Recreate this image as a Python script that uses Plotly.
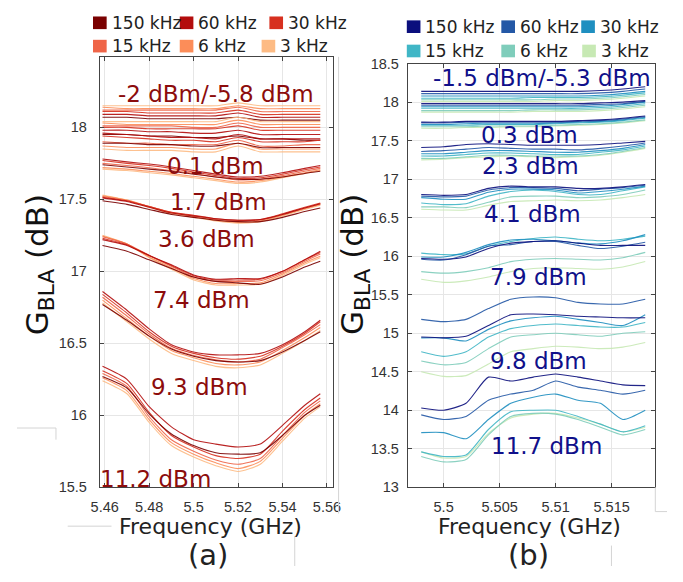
import plotly.graph_objects as go

# screen size 683x582; the page adds an 8 px body margin, so the figure is 16 px smaller
SCR_W, SCR_H = 683, 582
OFF = 8
W, H = SCR_W - 2 * OFF, SCR_H - 2 * OFF

# ---------------- data ----------------
freq_labels = ["150 kHz", "60 kHz", "30 kHz", "15 kHz", "6 kHz", "3 kHz"]
colors_a = ["#7a0000", "#b30d0d", "#d7301f", "#ef6548", "#fc8d59", "#fdbb84"]
colors_b = ["#0b0f7d", "#2458a6", "#1f8fc0", "#40b6c6", "#7fcdbb", "#c7e9b4"]

# panel (a): frequency (GHz)
freq_a = [5.459, 5.47, 5.48, 5.49, 5.50, 5.51, 5.52, 5.53, 5.54, 5.55, 5.557]
# each group: lines for 150, 60, 30, 15, 6, 3 kHz
a_m5p8 = [
    [18.07, 18.07, 18.06, 18.06, 18.06, 18.06, 18.07, 18.05, 18.05, 18.05, 18.05],
    [18.09, 18.09, 18.08, 18.08, 18.08, 18.08, 18.10, 18.07, 18.07, 18.07, 18.07],
    [18.11, 18.11, 18.10, 18.10, 18.10, 18.10, 18.12, 18.09, 18.09, 18.09, 18.09],
    [18.12, 18.12, 18.12, 18.12, 18.12, 18.12, 18.14, 18.11, 18.11, 18.11, 18.11],
    [18.14, 18.13, 18.13, 18.13, 18.13, 18.13, 18.15, 18.13, 18.13, 18.13, 18.13],
    [18.15, 18.15, 18.15, 18.15, 18.15, 18.15, 18.17, 18.15, 18.15, 18.15, 18.15],
]
a_m2 = [
    [17.95, 17.95, 17.94, 17.94, 17.93, 17.93, 17.94, 17.92, 17.92, 17.91, 17.91],
    [17.98, 17.98, 17.97, 17.97, 17.96, 17.96, 17.98, 17.95, 17.95, 17.95, 17.95],
    [18.00, 18.00, 17.99, 17.99, 17.99, 17.99, 18.01, 17.98, 17.98, 17.98, 17.98],
    [18.01, 18.01, 18.01, 18.01, 18.00, 18.00, 18.03, 18.00, 18.00, 18.00, 18.00],
    [18.03, 18.02, 18.02, 18.02, 18.02, 18.02, 18.05, 18.02, 18.02, 18.02, 18.02],
    [18.04, 18.04, 18.04, 18.04, 18.04, 18.04, 18.07, 18.04, 18.04, 18.04, 18.04],
]
a_0p1 = [
    [17.89, 17.89, 17.88, 17.88, 17.87, 17.87, 17.89, 17.86, 17.86, 17.86, 17.86],
    [17.96, 17.95, 17.94, 17.93, 17.93, 17.92, 17.95, 17.92, 17.92, 17.92, 17.92],
    [17.94, 17.93, 17.92, 17.91, 17.91, 17.90, 17.93, 17.90, 17.90, 17.90, 17.91],
    [17.90, 17.89, 17.89, 17.88, 17.88, 17.88, 17.91, 17.87, 17.87, 17.88, 17.88],
    [17.87, 17.86, 17.86, 17.86, 17.85, 17.85, 17.89, 17.85, 17.85, 17.85, 17.85],
    [17.85, 17.84, 17.84, 17.84, 17.83, 17.83, 17.87, 17.83, 17.83, 17.83, 17.83],
]
a_1p7 = [
    [17.74, 17.725, 17.71, 17.695, 17.675, 17.655, 17.64, 17.64, 17.655, 17.68, 17.695],
    [17.78, 17.76, 17.745, 17.725, 17.70, 17.675, 17.655, 17.66, 17.685, 17.715, 17.735],
    [17.77, 17.75, 17.735, 17.715, 17.69, 17.665, 17.645, 17.65, 17.675, 17.705, 17.725],
    [17.75, 17.735, 17.72, 17.70, 17.68, 17.655, 17.635, 17.64, 17.665, 17.695, 17.715],
    [17.72, 17.71, 17.695, 17.68, 17.66, 17.64, 17.62, 17.63, 17.655, 17.685, 17.705],
    [17.71, 17.70, 17.685, 17.67, 17.65, 17.63, 17.61, 17.62, 17.65, 17.68, 17.70],
]
a_3p6 = [
    [17.49, 17.465, 17.43, 17.395, 17.375, 17.355, 17.345, 17.345, 17.375, 17.415, 17.44],
    [17.51, 17.485, 17.445, 17.405, 17.385, 17.365, 17.355, 17.36, 17.395, 17.44, 17.47],
    [17.515, 17.49, 17.45, 17.41, 17.39, 17.365, 17.355, 17.36, 17.40, 17.445, 17.475],
    [17.52, 17.49, 17.45, 17.41, 17.385, 17.36, 17.35, 17.355, 17.395, 17.44, 17.47],
    [17.525, 17.495, 17.45, 17.405, 17.38, 17.355, 17.34, 17.35, 17.39, 17.435, 17.465],
    [17.53, 17.495, 17.445, 17.40, 17.375, 17.35, 17.335, 17.345, 17.385, 17.43, 17.46],
]
a_7p4 = [
    [17.18, 17.14, 17.08, 17.02, 16.96, 16.93, 16.92, 16.91, 16.96, 17.03, 17.07],
    [17.22, 17.18, 17.11, 17.045, 16.975, 16.945, 16.95, 16.95, 17.00, 17.08, 17.14],
    [17.23, 17.185, 17.11, 17.04, 16.97, 16.94, 16.94, 16.945, 17.00, 17.08, 17.13],
    [17.24, 17.19, 17.11, 17.035, 16.96, 16.93, 16.93, 16.935, 16.99, 17.07, 17.12],
    [17.245, 17.19, 17.10, 17.025, 16.95, 16.915, 16.915, 16.92, 16.98, 17.06, 17.105],
    [17.25, 17.19, 17.095, 17.015, 16.94, 16.905, 16.905, 16.91, 16.97, 17.05, 17.095],
]
a_9p3 = [
    [16.77, 16.66, 16.55, 16.46, 16.41, 16.38, 16.37, 16.38, 16.44, 16.52, 16.58],
    [16.86, 16.73, 16.60, 16.49, 16.44, 16.42, 16.42, 16.43, 16.49, 16.58, 16.66],
    [16.84, 16.71, 16.58, 16.48, 16.43, 16.40, 16.39, 16.41, 16.48, 16.57, 16.65],
    [16.82, 16.69, 16.565, 16.465, 16.415, 16.385, 16.37, 16.39, 16.47, 16.56, 16.63],
    [16.80, 16.67, 16.55, 16.45, 16.40, 16.36, 16.35, 16.37, 16.45, 16.54, 16.61],
    [16.78, 16.65, 16.53, 16.43, 16.38, 16.34, 16.33, 16.35, 16.43, 16.52, 16.59],
]
a_11p2 = [
    [16.27, 16.19, 16.01, 15.87, 15.79, 15.74, 15.73, 15.74, 15.86, 16.00, 16.07],
    [16.34, 16.25, 16.06, 15.92, 15.83, 15.80, 15.78, 15.80, 15.93, 16.07, 16.15],
    [16.31, 16.22, 16.02, 15.86, 15.78, 15.72, 15.70, 15.73, 15.89, 16.04, 16.12],
    [16.29, 16.20, 15.99, 15.83, 15.75, 15.69, 15.66, 15.70, 15.86, 16.02, 16.10],
    [16.26, 16.17, 15.97, 15.81, 15.73, 15.67, 15.63, 15.68, 15.84, 16.00, 16.08],
    [16.24, 16.15, 15.95, 15.79, 15.71, 15.65, 15.61, 15.66, 15.82, 15.98, 16.06],
]

# panel (b): frequency (GHz)
freq_b = [5.498, 5.500, 5.502, 5.504, 5.506, 5.508, 5.510, 5.512, 5.514, 5.516, 5.518]
b_m5p3 = [
    [18.14, 18.14, 18.14, 18.14, 18.14, 18.14, 18.14, 18.14, 18.15, 18.17, 18.20],
    [18.11, 18.11, 18.11, 18.11, 18.11, 18.11, 18.11, 18.11, 18.12, 18.14, 18.17],
    [18.08, 18.08, 18.08, 18.08, 18.08, 18.08, 18.08, 18.08, 18.09, 18.11, 18.14],
    [18.05, 18.05, 18.05, 18.05, 18.05, 18.06, 18.06, 18.06, 18.07, 18.09, 18.12],
    [18.03, 18.03, 18.03, 18.03, 18.03, 18.03, 18.04, 18.04, 18.05, 18.07, 18.10],
    [18.01, 18.01, 18.01, 18.01, 18.01, 18.01, 18.02, 18.02, 18.03, 18.05, 18.08],
]
b_m1p5 = [
    [17.98, 17.98, 17.98, 17.98, 17.98, 17.98, 17.98, 17.98, 17.99, 18.00, 18.02],
    [17.96, 17.96, 17.96, 17.96, 17.96, 17.96, 17.96, 17.96, 17.97, 17.98, 18.01],
    [17.94, 17.94, 17.94, 17.94, 17.94, 17.94, 17.94, 17.94, 17.95, 17.97, 18.00],
    [17.92, 17.92, 17.92, 17.92, 17.92, 17.92, 17.92, 17.92, 17.93, 17.95, 17.98],
    [17.89, 17.89, 17.89, 17.89, 17.89, 17.90, 17.90, 17.90, 17.91, 17.93, 17.96],
    [17.87, 17.87, 17.87, 17.87, 17.87, 17.88, 17.88, 17.88, 17.89, 17.91, 17.94],
]
b_0p3 = [
    [17.74, 17.74, 17.75, 17.75, 17.75, 17.75, 17.75, 17.76, 17.77, 17.79, 17.82],
    [17.73, 17.73, 17.74, 17.74, 17.74, 17.74, 17.74, 17.75, 17.76, 17.78, 17.81],
    [17.71, 17.71, 17.72, 17.72, 17.72, 17.72, 17.73, 17.74, 17.75, 17.77, 17.80],
    [17.70, 17.70, 17.70, 17.71, 17.71, 17.71, 17.72, 17.73, 17.74, 17.76, 17.79],
    [17.68, 17.68, 17.68, 17.69, 17.69, 17.69, 17.70, 17.71, 17.72, 17.74, 17.77],
    [17.66, 17.66, 17.67, 17.67, 17.68, 17.68, 17.69, 17.70, 17.71, 17.73, 17.76],
]
b_2p3 = [
    [17.41, 17.42, 17.45, 17.46, 17.45, 17.44, 17.44, 17.44, 17.45, 17.47, 17.49],
    [17.36, 17.37, 17.39, 17.41, 17.40, 17.39, 17.39, 17.38, 17.40, 17.43, 17.47],
    [17.33, 17.33, 17.35, 17.37, 17.37, 17.36, 17.35, 17.35, 17.37, 17.40, 17.45],
    [17.30, 17.30, 17.32, 17.34, 17.34, 17.33, 17.32, 17.32, 17.35, 17.38, 17.43],
    [17.27, 17.27, 17.29, 17.31, 17.31, 17.30, 17.30, 17.30, 17.32, 17.36, 17.41],
    [17.25, 17.26, 17.28, 17.29, 17.30, 17.29, 17.28, 17.29, 17.31, 17.35, 17.40],
]
b_4p1 = [
    [16.80, 16.79, 16.80, 16.88, 16.91, 16.90, 16.90, 16.88, 16.88, 16.90, 16.93],
    [16.78, 16.77, 16.78, 16.86, 16.89, 16.89, 16.88, 16.85, 16.87, 16.89, 16.92],
    [16.76, 16.74, 16.74, 16.83, 16.87, 16.87, 16.86, 16.82, 16.84, 16.87, 16.91],
    [16.69, 16.67, 16.68, 16.78, 16.84, 16.86, 16.84, 16.80, 16.80, 16.85, 16.90],
    [16.64, 16.64, 16.63, 16.70, 16.77, 16.78, 16.78, 16.76, 16.77, 16.80, 16.86],
    [16.61, 16.60, 16.60, 16.66, 16.71, 16.72, 16.73, 16.72, 16.73, 16.76, 16.80],
]
b_7p9 = [
    [15.97, 15.96, 15.99, 16.10, 16.17, 16.19, 16.20, 16.17, 16.14, 16.14, 16.14],
    [15.96, 15.95, 16.02, 16.13, 16.15, 16.19, 16.19, 16.14, 16.10, 16.13, 16.18],
    [15.99, 15.99, 16.05, 16.15, 16.21, 16.22, 16.20, 16.17, 16.16, 16.20, 16.28],
    [16.04, 16.02, 16.03, 16.13, 16.19, 16.23, 16.25, 16.22, 16.20, 16.22, 16.26],
    [15.80, 15.78, 15.80, 15.85, 15.93, 15.96, 15.97, 15.96, 15.95, 15.98, 16.05],
    [15.70, 15.66, 15.68, 15.73, 15.80, 15.84, 15.85, 15.84, 15.83, 15.86, 15.93],
]
b_9p8 = [
    [14.95, 14.94, 14.96, 15.10, 15.24, 15.25, 15.24, 15.22, 15.21, 15.20, 15.20],
    [15.18, 15.15, 15.18, 15.32, 15.44, 15.47, 15.46, 15.40, 15.38, 15.38, 15.44],
    [14.94, 14.94, 14.90, 15.05, 15.16, 15.20, 15.22, 15.18, 15.14, 15.10, 15.24],
    [14.76, 14.70, 14.76, 14.95, 15.06, 15.10, 15.12, 15.10, 15.08, 15.08, 15.14],
    [14.64, 14.59, 14.62, 14.80, 14.95, 14.98, 15.00, 14.98, 14.96, 15.00, 15.02],
    [14.50, 14.44, 14.45, 14.60, 14.76, 14.80, 14.83, 14.82, 14.80, 14.82, 14.88],
]
b_11p7 = [
    [14.03, 14.00, 14.09, 14.43, 14.38, 14.43, 14.47, 14.43, 14.38, 14.33, 14.32],
    [13.94, 13.88, 13.92, 14.13, 14.21, 14.26, 14.38, 14.30, 14.26, 14.21, 14.26],
    [13.71, 13.71, 13.63, 13.88, 14.09, 14.17, 14.21, 14.13, 14.09, 13.88, 14.00],
    [13.46, 13.40, 13.42, 13.75, 13.98, 14.00, 14.00, 13.92, 13.82, 13.72, 13.80],
    [13.40, 13.33, 13.36, 13.68, 13.92, 13.96, 13.95, 13.88, 13.78, 13.68, 13.75],
    [13.46, 13.38, 13.40, 13.70, 13.90, 13.95, 13.96, 13.90, 13.82, 13.72, 13.78],
]

groups_a = [a_m5p8, a_m2, a_0p1, a_1p7, a_3p6, a_7p4, a_9p3, a_11p2]
groups_b = [b_m5p3, b_m1p5, b_0p3, b_2p3, b_4p1, b_7p9, b_9p8, b_11p7]

# power labels: (text, freq, gain)
labels_a = [("-2 dBm/-5.8 dBm", 5.510, 18.234), ("0.1 dBm", 5.510, 17.734),
            ("1.7 dBm", 5.511, 17.484), ("3.6 dBm", 5.5056, 17.228),
            ("7.4 dBm", 5.5034, 16.802), ("9.3 dBm", 5.5025, 16.194),
            ("11.2 dBm", 5.4828, 15.559)]
labels_b = [("-1.5 dBm/-5.3 dBm", 5.5088, 18.311), ("0.3 dBm", 5.5077, 17.567),
            ("2.3 dBm", 5.5078, 17.175), ("4.1 dBm", 5.5079, 16.545),
            ("7.9 dBm", 5.5085, 15.725), ("9.8 dBm", 5.5085, 14.640),
            ("11.7 dBm", 5.5092, 13.530)]

ticks_xa = [5.46, 5.48, 5.50, 5.52, 5.54, 5.56]
ticktext_xa = ["5.46", "5.48", "5.5", "5.52", "5.54", "5.56"]
ticks_ya = [15.5, 16, 16.5, 17, 17.5, 18]
ticktext_ya = ["15.5", "16", "16.5", "17", "17.5", "18"]
ticks_xb = [5.500, 5.505, 5.510, 5.515]
ticktext_xb = ["5.5", "5.505", "5.51", "5.515"]
ticks_yb = [13, 13.5, 14, 14.5, 15, 15.5, 16, 16.5, 17, 17.5, 18, 18.5]
ticktext_yb = ["13", "13.5", "14", "14.5", "15", "15.5", "16", "16.5", "17", "17.5", "18", "18.5"]

# ---------------- figure ----------------
def px(x):
    return (x - OFF) / W

def py(y):
    return 1 - (y - OFF) / H

fig = go.Figure()

for groups, freq, cols, xa, ya in [(groups_a, freq_a, colors_a, "x", "y"),
                                   (groups_b, freq_b, colors_b, "x2", "y2")]:
    for g in groups:
        for i in reversed(range(6)):
            fig.add_trace(go.Scatter(
                x=freq, y=g[i], mode="lines", xaxis=xa, yaxis=ya,
                line=dict(color=cols[i], width=1.1, shape="spline", smoothing=0.6),
                opacity=0.9, showlegend=False, hoverinfo="skip"))

tickfont = dict(family="Liberation Sans, Arial", size=14.5, color="#333333")
axis_common = dict(showgrid=True, gridcolor="#e6e6e6", gridwidth=1, zeroline=False,
                   showline=True, linecolor="#444444", linewidth=1, mirror="ticks",
                   ticks="inside", ticklen=4, tickcolor="#444444", tickfont=tickfont)

fig.update_layout(
    width=W, height=H, margin=dict(l=0, r=0, t=0, b=0, pad=0), autosize=False,
    paper_bgcolor="white", plot_bgcolor="white", showlegend=False,
    xaxis=dict(domain=[px(93), px(332)], range=[5.4578, 5.5626], anchor="y",
               tickvals=ticks_xa, ticktext=ticktext_xa, ticklabelstandoff=6, **axis_common),
    yaxis=dict(domain=[py(493), py(50)], range=[15.5, 18.49], anchor="x",
               tickvals=ticks_ya, ticktext=ticktext_ya, ticklabelstandoff=9, **axis_common),
    xaxis2=dict(domain=[px(409), px(663)], range=[5.4968, 5.5189], anchor="y2",
                tickvals=ticks_xb, ticktext=ticktext_xb, ticklabelstandoff=6, **axis_common),
    yaxis2=dict(domain=[py(493), py(57)], range=[13, 18.5], anchor="x2",
                tickvals=ticks_yb, ticktext=ticktext_yb, ticklabelstandoff=5, **axis_common),
)

ann = []
for t, x, y in labels_a:
    ann.append(dict(text=t, x=x, y=y, xref="x", yref="y", showarrow=False,
                    xanchor="center", yanchor="middle",
                    font=dict(family="DejaVu Sans", size=23, color="#8c0c0c")))
for t, x, y in labels_b:
    ann.append(dict(text=t, x=x, y=y, xref="x2", yref="y2", showarrow=False,
                    xanchor="center", yanchor="middle",
                    font=dict(family="DejaVu Sans", size=23, color="#10108a")))

def paper_text(text, x, y, size, color="#222222", angle=0, xanchor="center"):
    return dict(text=text, x=px(x), y=py(y), xref="paper", yref="paper",
                xanchor=xanchor, yanchor="middle", textangle=angle, showarrow=False,
                font=dict(family="DejaVu Sans", size=size, color=color))

ann.append(paper_text("Frequency (GHz)", 207, 533, 22))
ann.append(paper_text("Frequency (GHz)", 534, 533, 22))
ann.append(paper_text("(a)", 204, 563, 29))
ann.append(paper_text("(b)", 533, 563, 29))
ylab = "G<sub>BLA</sub> (dB)"
ann.append(paper_text(ylab, 31, 264, 31, "#111111", -90))
ann.append(paper_text(ylab, 355, 264, 31, "#111111", -90))

# manual legends
shapes = []
leg_a = [(86, 15), (175, 15), (267, 15), (86, 39), (175, 39), (259, 39)]
leg_b = [(408, 19), (505, 19), (587, 19), (408, 44), (505, 44), (588, 44)]
for leg, cols in [(leg_a, colors_a), (leg_b, colors_b)]:
    for i, (lx, ly) in enumerate(leg):
        shapes.append(dict(type="rect", xref="paper", yref="paper",
                           x0=px(lx), x1=px(lx + 14), y0=py(ly + 6.5), y1=py(ly - 6.5),
                           fillcolor=cols[i], line=dict(width=0)))
        ann.append(paper_text(freq_labels[i], lx + 17, ly, 17, xanchor="left"))

# faint frame fragments of the composed figure
frag = [((8, 432), (48, 432)), ((48, 432), (48, 444)), ((60, 533), (105, 533)),
        ((293, 543), (293, 574)), ((663, 493), (663, 518)), ((663, 518), (675, 518)),
        ((618, 553), (618, 574)), ((338, 50), (338, 520))]
for (x0, y0), (x1, y1) in frag:
    shapes.append(dict(type="line", xref="paper", yref="paper", x0=px(x0), y0=py(y0),
                       x1=px(x1), y1=py(y1), line=dict(color="#d4d4d4", width=1)))

fig.update_layout(annotations=ann, shapes=shapes)
fig.write_html("out.html", config={"displayModeBar": False})
